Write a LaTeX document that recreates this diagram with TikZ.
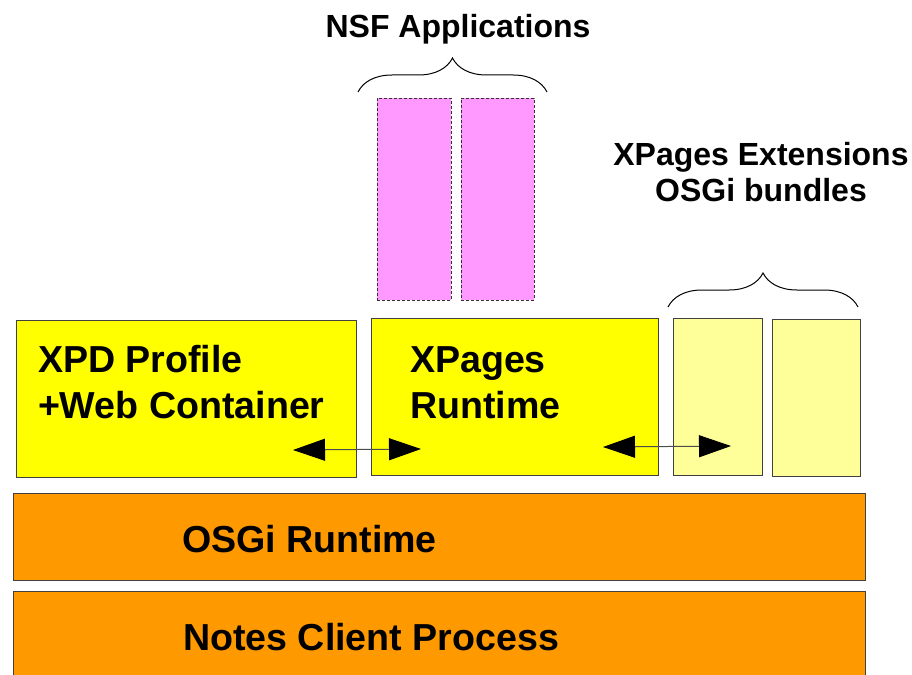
\documentclass[tikz,border=0pt]{standalone}
\usepackage{fontspec}
\setmainfont{Liberation Sans}
\usetikzlibrary{positioning,arrows.meta,decorations.pathreplacing}

\definecolor{runyellow}{HTML}{FFFF00}
\definecolor{extyellow}{HTML}{FFFF99}
\definecolor{nsfpink}{HTML}{FF99FF}
\definecolor{osgiorange}{HTML}{FF9900}

\begin{document}
\begin{tikzpicture}[x=1pt,y=-1pt,
  every node/.style={inner sep=0pt, outer sep=0pt},
  layer/.style={shape=rectangle, draw=black!75, line width=1pt, anchor=north west},
  label/.style={font=\bfseries\fontsize{37.6}{46}\selectfont, align=left, anchor=base west},
  title/.style={font=\bfseries\fontsize{32}{36}\selectfont, align=center, anchor=base},
  link/.style={{Triangle[length=32pt,width=22pt,black]}-{Triangle[length=32pt,width=22pt,black]}, line width=1pt, draw=black!70},
  grp/.style={decorate, decoration={brace, amplitude=34pt}, line width=1pt}]
\useasboundingbox (0,0) rectangle (912,674);
% bottom layers
\node[layer, fill=osgiorange, minimum width=852, minimum height=87] (osgi) at (13,493) {};
\node[layer, fill=osgiorange, minimum width=852, minimum height=110] (notes) at (13,591) {};
\node[label] at (182,552) {OSGi Runtime};
\node[label] at (183,650) {Notes Client Process};
% middle layer
\node[layer, fill=runyellow, minimum width=340, minimum height=157] (xpd) at (16,320) {};
\node[layer, fill=runyellow, minimum width=287, minimum height=157] (xpages) at (371,318) {};
\node[layer, fill=extyellow, minimum width=89, minimum height=157] (ext1) at (673,318) {};
\node[layer, fill=extyellow, minimum width=88, minimum height=157] (ext2) at (772,319) {};
\node[label] at (38,418) {XPD Profile\\+Web Container};
\node[label] at (410,418) {XPages\\Runtime};
% nsf applications
\node[layer, fill=nsfpink, draw=black!80, line width=0.8pt, dash pattern=on 3pt off 2pt, minimum width=74, minimum height=202] (nsf1) at (377,98) {};
\node[layer, fill=nsfpink, draw=black!80, line width=0.8pt, dash pattern=on 3pt off 2pt, minimum width=73, minimum height=202] (nsf2) at (461,98) {};
% braces and titles
\coordinate (nsfl) at (358,92);
\coordinate (nsfr) at (547,92);
\coordinate (extl) at (668,307);
\coordinate (extr) at (858,307);
\draw[grp] (nsfl) -- (nsfr);
\draw[grp] (extl) -- (extr);
\node[title] (nsftitle) at (458,38) {NSF Applications};
\node[title] (exttitle) at (761,201) {XPages Extensions\\OSGi bundles};
% arrows
\coordinate (a1) at (293,450);
\coordinate (b1) at (421,449);
\coordinate (a2) at (603,447);
\coordinate (b2) at (731,446);
\draw[link] (a1) -- (b1);
\draw[link] (a2) -- (b2);
\end{tikzpicture}
\end{document}
